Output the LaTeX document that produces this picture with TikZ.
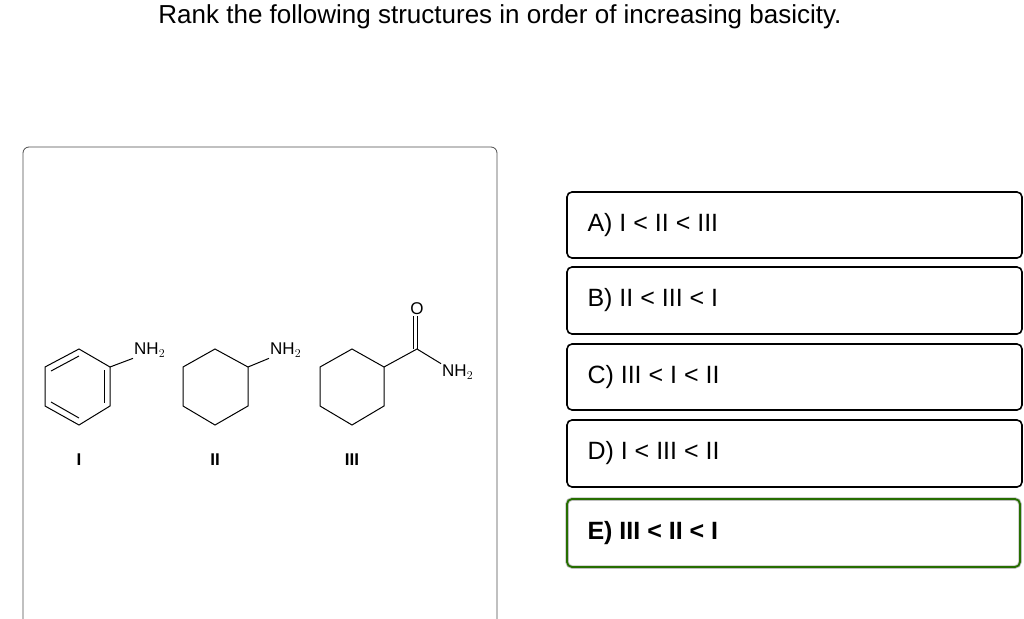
\documentclass[tikz,border=0pt]{standalone}
\usepackage{fontspec}
\setmainfont{Liberation Sans}
\begin{document}
\begin{tikzpicture}[x=1pt,y=-1pt,
  opt/.style={draw=black,line width=1.6pt,rounded corners=5pt},
  optt/.style={anchor=west,font=\fontsize{25}{28}\selectfont},
  bd/.style={line width=1pt},
  lab/.style={font=\fontsize{17}{19}\selectfont,inner sep=1pt},
  num/.style={font=\bfseries\fontsize{17}{19}\selectfont}]
\useasboundingbox (0,0) rectangle (1024,618);
\node (title) at (500,17) {\fontsize{26}{30}\selectfont Rank the following structures in order of increasing basicity.};
\draw[line width=0.8pt,draw=black!70,rounded corners=6pt] (23,625) -- (23,147) -- (497,147) -- (497,625);
% I benzene
\draw[bd] (79,349) -- (110,367) -- (110,406) -- (79,425) -- (45,406) -- (45,367) -- cycle;
\draw[bd] (79,356) -- (51,371);
\draw[bd] (104,370) -- (104,403);
\draw[bd] (51,402) -- (79,418);
\node[lab,anchor=west] (n1) at (133,350) {NH$_2$};
\draw[bd] (110,367) -- (n1.south west);
\node[num] (l1) at (79,460) {I};
% II
\draw[bd] (215,349) -- (248,367) -- (248,406) -- (215,425) -- (183,406) -- (183,367) -- cycle;
\node[lab,anchor=west] (n2) at (269,350) {NH$_2$};
\draw[bd] (248,367) -- (n2.south west);
\node[num] (l2) at (215,460) {II};
% III
\draw[bd] (352,349) -- (384,367) -- (384,406) -- (352,425) -- (320,406) -- (320,367) -- cycle;
\coordinate (c) at (417,349);
\node[lab] (o) at (417,309) {O};
\node[lab,anchor=west] (n3) at (441,372) {NH$_2$};
\draw[bd] (384,367) -- (c) -- (n3.north west);
\draw[bd] (c) -- (o.south);
\draw[bd] ([xshift=-4]c) -- ([xshift=-4]o.south);
\node[num] (l3) at (352,460) {III};
% options
\draw[opt] (567,192) rectangle (1022,258);
\node[optt] (a) at (584,225) {A) I < II < III};
\draw[opt] (567,267) rectangle (1022,334);
\node[optt] (b) at (584,300) {B) II < III < I};
\draw[opt] (567,344) rectangle (1022,410);
\node[optt] (cc) at (584,377) {C) III < I < II};
\draw[opt] (567,420) rectangle (1022,487);
\node[optt] (d) at (584,453) {D) I < III < II};
\draw[line width=3.5pt,draw=gray!50,rounded corners=5pt] (567,499) rectangle (1020,567);
\draw[line width=1.8pt,draw=green!40!black!70!olive,rounded corners=5pt] (567,499) rectangle (1020,567);
\node[optt,font=\bfseries\fontsize{25}{28}\selectfont] (e) at (584,533) {E) III < II < I};
\end{tikzpicture}
\end{document}
